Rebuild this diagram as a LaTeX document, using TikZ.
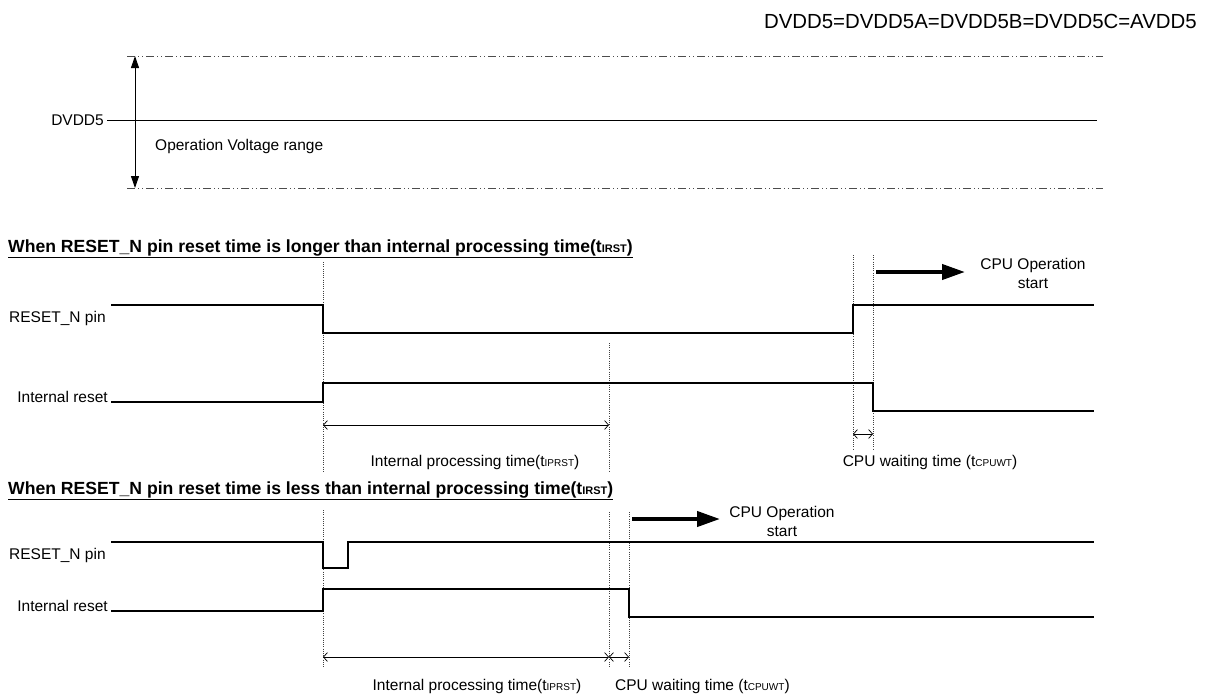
\documentclass[tikz,border=0pt]{standalone}
\usepackage{fontspec}
\setmainfont{Liberation Sans}
\usetikzlibrary{arrows.meta}
\begin{document}
\begin{tikzpicture}[x=1pt,y=-1pt,
  lbl/.style={font=\fontsize{15.5}{19}\selectfont, inner sep=0pt},
  head/.style={font=\fontsize{17.6}{20}\selectfont\bfseries, inner sep=0pt, anchor=base west},
  wave/.style={line width=1.1pt, black},
  guide/.style={line width=0.8pt, black!75, dash pattern=on 1pt off 1.2pt},
  dim/.style={line width=0.7pt, {Straight Barb[length=4pt,width=9pt]}-{Straight Barb[length=4pt,width=9pt]}},
  bigarrow/.style={line width=4pt, -{Triangle[length=23pt,width=15pt]}},
  dashdot/.style={line width=0.7pt, black!70, dash pattern=on 8pt off 3pt on 1pt off 3pt on 1pt off 3pt},
  vrange/.style={line width=1pt, {Triangle[length=12pt,width=8pt]}-{Triangle[length=12pt,width=8pt]}}]
\useasboundingbox (0,0) rectangle (1213,694);

% ---------- top: supply range ----------
\node[font=\fontsize{20.4}{24}\selectfont, inner sep=0pt, anchor=base east] (title) at (1197,28) {DVDD5=DVDD5A=DVDD5B=DVDD5C=AVDD5};
\coordinate (dtl) at (127,56);
\coordinate (dtr) at (1103,56);
\coordinate (dbl) at (127,188);
\coordinate (dbr) at (1103,188);
\draw[dashdot] (dtl) -- (dtr);
\draw[dashdot] (dbl) -- (dbr);
\node[lbl, anchor=east] (dvdd) at (104,120) {DVDD5};
\coordinate (dvddend) at (1097,120);
\draw[line width=1pt] ([xshift=3pt]dvdd.east) -- (dvddend);
\coordinate (vtop) at (135,56);
\coordinate (vbot) at (135,188);
\draw[vrange] (vtop) -- (vbot);
\node[lbl, anchor=west] (ovr) at (155,146) {Operation Voltage range};

% ---------- case 1 ----------
\node[head] (h1) at (8,252) {\underline{When RESET\_N pin reset time is longer than internal processing time(t{\fontsize{11}{11}\selectfont IRST})}};
\draw[guide] (323,262) -- (323,472);
\draw[guide] (609,343) -- (609,472);
\draw[guide] (853,255) -- (853,450);
\draw[guide] (873,255) -- (873,450);

\node[lbl, anchor=west] (rst1) at (9,318) {RESET\_N pin};
\draw[wave] (111,305) -- (323,305) -- (323,333) -- (853,333) -- (853,305) -- (1094,305);
\node[lbl, anchor=base east] (ir1) at (108,402) {Internal reset};
\draw[wave] (111,402) -- (323,402) -- (323,383) -- (873,383) -- (873,411) -- (1094,411);

\coordinate (ba1s) at (876,272);
\coordinate (ba1e) at (965,272);
\draw[bigarrow] (ba1s) -- (ba1e);
\node[lbl, align=center] (cpu1) at (1033,273.5) {CPU Operation\\start};

\coordinate (d1a) at (323,425);
\coordinate (d1b) at (609,425);
\draw[dim] (d1a) -- (d1b);
\node[lbl] (ipt1) at (475,462) {Internal processing time(t{\fontsize{10}{10}\selectfont IPRST})};
\coordinate (w1a) at (853,434);
\coordinate (w1b) at (873,434);
\draw[dim] (w1a) -- (w1b);
\node[lbl] (cw1) at (930,462) {CPU waiting time (t{\fontsize{10}{10}\selectfont CPUWT})};

% ---------- case 2 ----------
\node[head] (h2) at (8,494) {\underline{When RESET\_N pin reset time is less than internal processing time(t{\fontsize{11}{11}\selectfont IRST})}};
\draw[guide] (323,510) -- (323,668);
\draw[guide] (609,512) -- (609,668);
\draw[guide] (629,512) -- (629,668);

\node[lbl, anchor=west] (rst2) at (9,555) {RESET\_N pin};
\draw[wave] (111,542) -- (323,542) -- (323,568) -- (348,568) -- (348,542) -- (1094,542);
\node[lbl, anchor=base east] (ir2) at (108,611) {Internal reset};
\draw[wave] (111,611) -- (323,611) -- (323,589) -- (629,589) -- (629,617) -- (1094,617);

\coordinate (ba2s) at (632,519);
\coordinate (ba2e) at (720,519);
\draw[bigarrow] (ba2s) -- (ba2e);
\node[lbl, align=center] (cpu2) at (782,521) {CPU Operation\\start};

\coordinate (d2a) at (323,657);
\coordinate (d2b) at (609,657);
\coordinate (d2c) at (629,657);
\draw[dim] (d2a) -- (d2b);
\draw[dim] (d2b) -- (d2c);
\node[lbl] (ipt2) at (477,686) {Internal processing time(t{\fontsize{10}{10}\selectfont IPRST})};
\node[lbl, anchor=west] (cw2) at (615,686) {CPU waiting time (t{\fontsize{10}{10}\selectfont CPUWT})};
\end{tikzpicture}
\end{document}
